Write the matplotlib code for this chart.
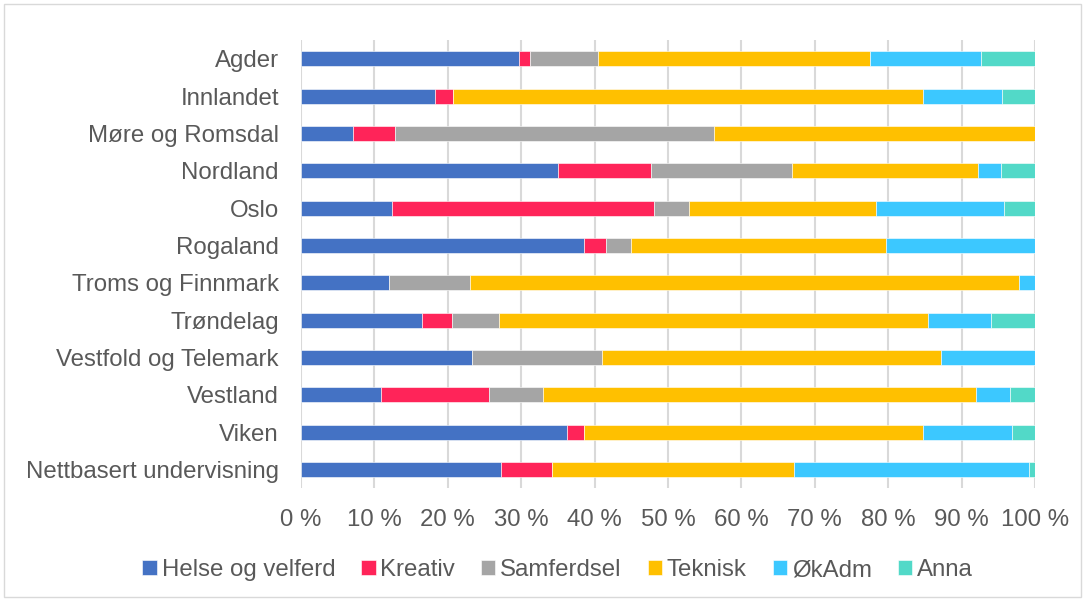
import matplotlib
matplotlib.use("Agg")
import matplotlib.pyplot as plt
import numpy as np
from matplotlib.patches import Rectangle

categories = ["Agder", "Innlandet", "Møre og Romsdal", "Nordland", "Oslo", "Rogaland",
              "Troms og Finnmark", "Trøndelag", "Vestfold og Telemark", "Vestland",
              "Viken", "Nettbasert undervisning"]
series_names = ["Helse og velferd", "Kreativ", "Samferdsel", "Teknisk", "ØkAdm", "Anna"]
helse = [29.7, 18.3, 7.1, 35.0, 12.4, 38.6, 12.0, 16.5, 23.3, 10.9, 36.3, 27.2]
kreativ = [1.5, 2.4, 5.7, 12.7, 35.7, 3.0, 0.0, 4.1, 0.0, 14.7, 2.3, 7.0]
samferdsel = [9.2, 0.0, 43.5, 19.2, 4.7, 3.4, 11.0, 6.4, 17.7, 7.4, 0.0, 0.0]
teknisk = [37.1, 64.0, 43.7, 25.3, 25.5, 34.7, 74.8, 58.4, 46.2, 58.9, 46.1, 32.9]
okadm = [15.2, 10.8, 0.0, 3.2, 17.5, 20.3, 2.2, 8.6, 12.8, 4.7, 12.1, 32.1]
anna = [7.3, 4.5, 0.0, 4.6, 4.2, 0.0, 0.0, 6.0, 0.0, 3.4, 3.2, 0.8]
xticks = [0, 10, 20, 30, 40, 50, 60, 70, 80, 90, 100]
xtick_labels = [f"{v} %" for v in xticks]

colors = ["#4472C4", "#FF2459", "#A5A5A5", "#FFC000", "#3CC8FF", "#52D9C8"]

plt.rcParams['font.family'] = ['Liberation Sans', 'DejaVu Sans']
txt = "#595959"
fs = 17.3

fig = plt.figure(figsize=(10.85, 5.99), dpi=100)
ax = fig.add_axes([0.2774, 0.185, 0.954 - 0.2774, 0.748])

data = [helse, kreativ, samferdsel, teknisk, okadm, anna]
y = np.arange(len(categories))
tot = np.array([sum(col) for col in zip(*data)])
left = np.zeros(len(categories))
for name, vals, c in zip(series_names, data, colors):
    v = np.array(vals, dtype=float) / tot * 100
    ax.barh(y, v, left=left, height=0.40, color=c, label=name,
            edgecolor="white", linewidth=0.4, zorder=3)
    left += v

ax.set_xlim(0, 100)
ax.set_ylim(len(categories) - 0.5, -0.5)
ax.set_yticks(y)
ax.set_yticklabels(categories, fontsize=fs, color=txt)
ax.set_xticks(xticks)
ax.set_xticklabels(xtick_labels, fontsize=fs, color=txt)
ax.tick_params(axis="both", length=0)
ax.tick_params(axis="y", pad=16)
ax.tick_params(axis="x", pad=15)
ax.grid(axis="x", color="#D9D9D9", linewidth=1.5, zorder=0)
for s in ax.spines.values():
    s.set_visible(False)

leg = fig.legend(loc="center", bbox_to_anchor=(0.514, 0.048), ncol=6, frameon=False,
                 fontsize=fs, handlelength=0.6, handleheight=0.6, handletextpad=0.2,
                 columnspacing=1.08, labelcolor=txt)

fig.patches.append(Rectangle((0.004, 0.004), 0.992, 0.99, transform=fig.transFigure,
                             fill=False, edgecolor="#D9D9D9", linewidth=1))

fig.savefig("out.png", dpi=100, facecolor="white")
